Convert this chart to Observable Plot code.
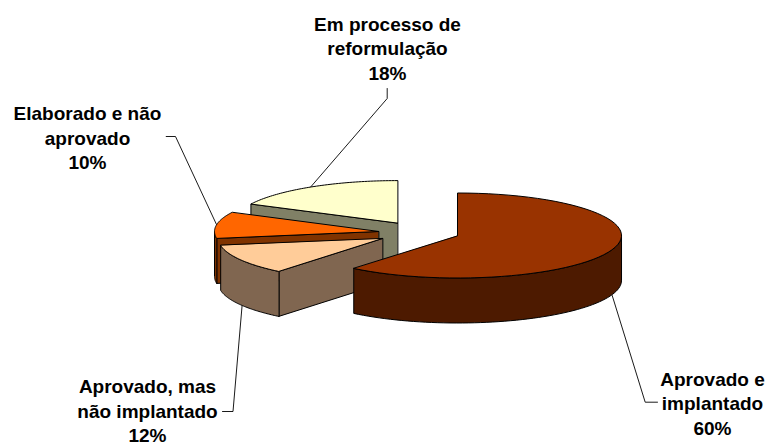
<!DOCTYPE html>
<html><head><meta charset="utf-8">
<script src="https://cdn.jsdelivr.net/npm/d3@7"></script>
<script src="https://cdn.jsdelivr.net/npm/@observablehq/plot@0.6"></script>
<style>html,body{margin:0;padding:0;background:#fff}svg{display:block}</style>
</head><body><div id="chart"></div>
<script>
// Data
const categories = ["Aprovado e\nimplantado", "Aprovado, mas\nnão implantado", "Elaborado e não\naprovado", "Em processo de\nreformulação"];
const percentLabels = ["60%", "12%", "10%", "18%"];
const shares = [60.9, 11.5, 10, 17.6];

// Styles and layout
const topColors = ["#993300", "#FFCC99", "#FF6600", "#FFFFCC"];
const sideColors = ["#4D1A00", "#806650", "#803300", "#808066"];
const centerX = [457, 382, 378, 397];
const centerY = [235, 238, 231, 222.6];
const labelX = [712, 147, 87, 387];
const labelY = [402, 409.5, 136.5, 47];
const leaders = [
  [[611.7, 295], [644.7, 401.7], [657, 401.7]],
  [[241.6, 305], [232.5, 411], [222, 411]],
  [[216, 224], [175, 136], [165.7, 136]],
  [[310, 186.7], [386.7, 98], [386.7, 88]]
];
const rx = 164, ry = 42.5, depth = 45;

// Slice angles, clockwise from the top of the pie
const total = d3.sum(shares);
let acc = 0;
const slices = shares.map((s, i) => {
  const a0 = acc / total * 360; acc += s; const a1 = acc / total * 360;
  return {i, a0, a1};
});
const pt = (i, deg, dz = 0) => {
  const t = deg * Math.PI / 180;
  return [centerX[i] + rx * Math.sin(t), centerY[i] - ry * Math.cos(t) + dz];
};
const arc = (i, a, b, dz = 0) => d3.range(0, 61).map(k => pt(i, a + (b - a) * k / 60, dz));

// Faces painted back to front
const faces = [];
const add = (pts, fill) => { const face = faces.length; pts.forEach(([x, y]) => faces.push({x, y, face, fill})); };
for (const {i, a0, a1} of [slices[3], slices[2], slices[1], slices[0]]) {
  const c = [centerX[i], centerY[i]];
  if (a0 > 180) {
    const e = pt(i, a0);
    add([c, e, [e[0], e[1] + depth], [c[0], c[1] + depth]], sideColors[i]);
  }
  const w0 = Math.max(a0, 90), w1 = Math.min(a1, 270);
  if (w1 > w0) add([...arc(i, w0, w1), ...arc(i, w0, w1, depth).reverse()], sideColors[i]);
  add([c, ...arc(i, a0, a1)], topColors[i]);
}

const leaderRows = leaders.flatMap((l, k) => l.map(([x, y]) => ({x, y, k})));
const labelRows = categories.map((c, i) => ({x: labelX[i], y: labelY[i], t: c + "\n" + percentLabels[i]}));

const chart = Plot.plot({
  width: 766, height: 442, margin: 0,
  style: {background: "#fff"},
  x: {domain: [0, 766], range: [0, 766], axis: null},
  y: {domain: [0, 442], range: [0, 442], axis: null},
  color: {type: "identity"},
  marks: [
    Plot.line(leaderRows, {x: "x", y: "y", z: "k", stroke: "#000", strokeWidth: 0.9}),
    Plot.line(faces, {x: "x", y: "y", z: "face", fill: "fill", stroke: "#000", strokeWidth: 1, strokeLinejoin: "round", curve: "linear-closed"}),
    Plot.text(labelRows, {x: "x", y: "y", text: "t", fontFamily: "Liberation Sans", fontWeight: "bold", fontSize: 19, lineHeight: 1.28, fill: "#000", textAnchor: "middle"})
  ]
});
document.getElementById("chart").append(chart);
</script></body></html>
